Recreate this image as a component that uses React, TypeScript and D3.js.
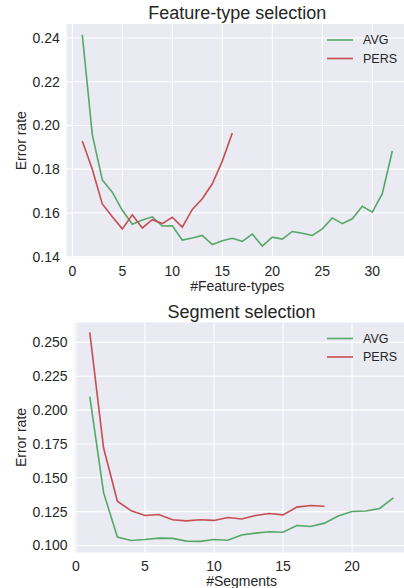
import React from 'react';
import * as d3 from 'd3';

// Feature-type selection
const featX = d3.range(1, 33);
const featAvg = [0.2415, 0.1958, 0.1751, 0.1695, 0.1612, 0.1548, 0.1568, 0.1582, 0.154, 0.1541,
  0.1476, 0.1485, 0.1497, 0.1455, 0.1473, 0.1484, 0.147, 0.1503, 0.1448, 0.1489, 0.148,
  0.1515, 0.1507, 0.1497, 0.1527, 0.1577, 0.1551, 0.1573, 0.163, 0.1603, 0.1688, 0.1883];
const featPers = [0.1929, 0.18, 0.1641, 0.1582, 0.1527, 0.1591, 0.1531, 0.1569, 0.1551, 0.158,
  0.1535, 0.1616, 0.1665, 0.1733, 0.1837, 0.1965];
const featYTicks = [0.14, 0.16, 0.18, 0.2, 0.22, 0.24];
const featXTicks = [0, 5, 10, 15, 20, 25, 30];

// Segment selection
const segX = d3.range(1, 24);
const segAvg = [0.2099, 0.139, 0.1062, 0.1037, 0.1044, 0.1054, 0.1052, 0.1032, 0.103, 0.1044,
  0.1039, 0.1077, 0.1091, 0.1101, 0.1098, 0.1147, 0.114, 0.1165, 0.1217, 0.1251, 0.1255,
  0.1273, 0.1352];
const segPers = [0.2574, 0.172, 0.1327, 0.1256, 0.1221, 0.1229, 0.119, 0.1182, 0.119, 0.1185,
  0.1207, 0.1195, 0.1221, 0.1236, 0.1226, 0.1283, 0.1295, 0.129];
const segYTicks = [0.1, 0.125, 0.15, 0.175, 0.2, 0.225, 0.25];
const segXTicks = [0, 5, 10, 15, 20];

const GREEN = '#55A868';
const RED = '#C44E52';
const TEXT = '#262626';
const FONT = '"Liberation Sans", Arial, sans-serif';

type PanelProps = {
  top: number, bottom: number, left: number, right: number,
  title: string, xLabel: string,
  xs: number[], avg: number[], pers: number[],
  xDomain: [number, number], yDomain: [number, number],
  xTicks: number[], yTicks: number[], yFmt: (v: number) => string,
};

function Panel(p: PanelProps) {
  const x = d3.scaleLinear().domain(p.xDomain).range([p.left, p.right]);
  const y = d3.scaleLinear().domain(p.yDomain).range([p.bottom, p.top]);
  const line = d3.line<number>()
    .x((d, i) => x(p.xs[i]))
    .y(d => y(d));
  const midX = (p.left + p.right) / 2;
  const midY = (p.top + p.bottom) / 2;

  return (
    <g>
      <rect x={p.left} y={p.top} width={p.right - p.left} height={p.bottom - p.top} fill="#EAEAF2" />
      {p.xTicks.map(t => (
        <line key={'gx' + t} x1={x(t)} x2={x(t)} y1={p.top} y2={p.bottom} stroke="#fff" strokeWidth={1.1} />
      ))}
      {p.yTicks.map(t => (
        <line key={'gy' + t} x1={p.left} x2={p.right} y1={y(t)} y2={y(t)} stroke="#fff" strokeWidth={1.1} />
      ))}
      <path d={line(p.avg) || ''} fill="none" stroke={GREEN} strokeWidth={1.6} />
      <path d={line(p.pers) || ''} fill="none" stroke={RED} strokeWidth={1.6} />

      {p.yTicks.map(t => (
        <text key={'ty' + t} x={p.left - 7} y={y(t)} dy="0.35em" textAnchor="end"
              fontSize={14} fill={TEXT}>{p.yFmt(t)}</text>
      ))}
      {p.xTicks.map(t => (
        <text key={'tx' + t} x={x(t)} y={p.bottom + 18} textAnchor="middle"
              fontSize={14} fill={TEXT}>{t}</text>
      ))}
      <text x={midX} y={p.bottom + 33} textAnchor="middle" fontSize={14} fill={TEXT}>{p.xLabel}</text>
      <text transform={`translate(26,${midY}) rotate(-90)`} textAnchor="middle"
            fontSize={14} fill={TEXT}>Error rate</text>
      <text x={midX} y={p.top - 5} textAnchor="middle" fontSize={18} fill={TEXT}>{p.title}</text>

      <g transform={`translate(${327},${p.top + 16})`}>
        <line x1={0} x2={26} y1={0} y2={0} stroke={GREEN} strokeWidth={1.6} />
        <text x={36} y={0} dy="0.35em" fontSize={12.5} fill={TEXT}>AVG</text>
        <line x1={0} x2={26} y1={18.5} y2={18.5} stroke={RED} strokeWidth={1.6} />
        <text x={36} y={18.5} dy="0.35em" fontSize={12.5} fill={TEXT}>PERS</text>
      </g>
    </g>
  );
}

export default function App() {
  return (
    <svg width={404} height={588} style={{ position: 'absolute', left: 0, top: 0, fontFamily: FONT }}>
      <Panel top={24} bottom={257.5} left={66.8} right={407.8}
             title="Feature-type selection" xLabel="#Feature-types"
             xs={featX} avg={featAvg} pers={featPers}
             xDomain={[-0.55, 33.55]} yDomain={[0.1396, 0.2464]}
             xTicks={featXTicks} yTicks={featYTicks} yFmt={d3.format('.2f')} />
      <Panel top={322.5} bottom={552.5} left={74.6} right={408.6}
             title="Segment selection" xLabel="#Segments"
             xs={segX} avg={segAvg} pers={segPers}
             xDomain={[-0.1, 24.1]} yDomain={[0.0948, 0.2647]}
             xTicks={segXTicks} yTicks={segYTicks} yFmt={d3.format('.3f')} />
    </svg>
  );
}
